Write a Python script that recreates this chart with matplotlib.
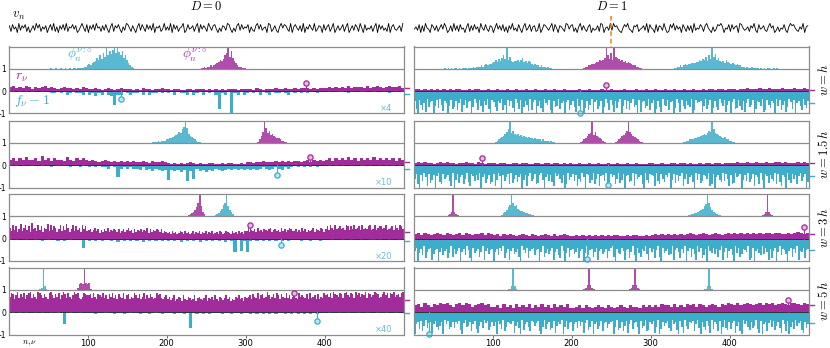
import numpy as np
import matplotlib.pyplot as plt
from matplotlib import transforms
from matplotlib.lines import Line2D

plt.rcParams['mathtext.fontset'] = 'cm'
plt.rcParams['font.family'] = ['DejaVu Sans']

MAG = '#a22c9c'
CYAN = '#3cadca'
MAG_L = '#e9b6e4'
CYAN_L = '#bfe6f0'

# potential v_n, one digit every 2 sites (level 1..9 around 5)
V_L = ("72846 19375 82614 73958 26471 58392 61748 39265 84713 69528 "
       "17483 95627 38416 92758 41639 85274 16938 52847 39165 72493 "
       "63918 47256 91384 57269 18475 29637 84152 76398 41527 93846 "
       "58163 27948 35619 82473 16958 74291 68537 29164 85392 47618 "
       "36825 91473 58269 14738 62951 83547 26918 47352 91684 35729")
V_R = ("46381 72954 18637 25849 61372 93728 45169 27384 61953 84276 "
       "15947 38261 74935 28416 93582 67239 14875 36928 51764 29847 "
       "82516 93742 68153 47298 15639 39674 21586 94317 68245 73918 "
       "54182 76394 12859 37461 85273 71935 48627 95316 24879 61548 "
       "28467 19853 46275 93184 57326 95713 62548 31697 85326 49167")

# r_nu and |f_nu - 1| over sites 1..500, base-36 char / 20 (125 chars: 4 sites each, 250 chars: 2 sites each)
R_L = [
    "45343 54243 45343 23433 23243 22321 23212 32221 21322 12232 21221 12212 22121 21212 22122 "
    "22132 12223 22322 32333 23233 34343 43534 44353 45434 54453",
    "56465 75564 85646 55475 46565 45434 54343 43434 33432 43343 21212 12321 21122 11212 21121 "
    "33233 43334 34343 44345 35454 56465 65756 46565 75656 56465",
    "a7c8b 69d7a c8b6e 9a7c8 b6a9d 7c8ba 69c7b 8da69 c7b8a 6c9b7 "
    "8968a 79586 97a68 79869 57968 a7859 68796 87a59 68798 69576 "
    "56475 64576 47564 57465 74657 46574 56476 45765 47564 75647 "
    "7a687 96a78 69879 a6897 86a79 68a97 79686 a7968 78a69 87a96 "
    "9b8ca 8c9ab 9a8cb 8b9c9 ab8c9 a9bc8 9c8ab b9ac8 9ab8c a8cb9",
    "ehgcf idgeh cfhid gecih fdgec hifdg ehcfi gdhec fighd cehgf "
    "fgdhe cgfeh dfcge hdfcg edhcf gcedh fdgce hcfdg ecdhf gdcef "
    "cebdf aceda fcbed bcfad ecbdf adceb fcaed bdfce acbed fcdae "
    "defcg edhcf gdeif cegdh fcged hdfce gdche fedgc hdefc gcedh "
    "fgehd igfeh gdhif ehgdi fhegf idhge fihgd egifh dhgie fgehi",
]
F_L = [
    "00101 01011 01122 12132 12231 32423 134c3 31232 21313 22121 21312 23132 13121 3g231 k2313 "
    "21213 12312 21231 21212 11211 10110 01201 10011 01101 21010",
    "01010 11011 01121 01012 11201 21212 2312b 32323 34243 53454 d4546 4e5c3 54645 34543 43434 "
    "34343 23432 34232 12121 21211 10101 01101 10010 11010 10101",
    "01011 01101 21011 21210 11181 21212 11213 12121 21312 12121 21213 12121 31212 12131 2c1b2 "
    "c2121 21212 12121 11211 21121 11011 01101 10110 01011 01101",
    "10101 01101 01101 01b10 11011 11211 01121 12101 12112 10121 11211 21e12 12121 11211 21121 "
    "12121 21212 11212 12121 21211 10110 11011 01101 10110 11011",
]
R_R = [
    "22121 21212 12122 11212 21121 12112 11211 21121 12112 11211 11211 21112 11211 12111 21121 "
    "12112 11211 21121 12122 12212 22122 32223 22322 23222 32232",
    "23232 21232 32212 23221 32122 21221 12212 21122 12212 21212 11211 21121 12112 11211 21112 "
    "21121 12212 21211 21221 22122 22322 32232 23223 32322 23232",
    "45354 34543 54345 35434 45354 34243 43234 32432 34324 23432 23232 32323 23233 22323 32232 "
    "34343 43434 34543 45434 54345 45454 54545 45545 54454 56545",
    "67586 57687 86578 68756 78675 56475 64756 57465 75647 56574 45646 54565 46545 65465 54656 "
    "56576 65756 57675 76567 65768 76867 87678 68786 78768 87687",
]
F_R = [
    "9gk8c hbj7e a9kd8 f7ci9 bkd8g e9hb7 jc8fa 9ke7b h8dj9 c7gk8 "
    "aei9b 7hck8 d9fj7 bg8ke 9ci7h a8kd9 fj7bc 8hk9e d7gb9 ka8hc "
    "9ej7d b8kf9 hc7ja 8gd9k e7bh8 cj9fa 7kd8g 9hb7e ck8ja 9fd7h "
    "b8kg9 ej7cd 8ha9k f7bj8 dg9ce 7kh8b a9jd7 gc8kf 9eh7b d8jc9 "
    "ka7gf 8dh9j b7ec8 kg9ad 7jh8c f9bk7 d8hc9 je7ag 8kb9d h7cf9",
    "c8hk9 e7bj8 gd9ka 7fh8c b9ej7 kd8gb 9hc7f j8ae9 d7kb8 gc9hf "
    "8jd7a k9eb8 h7gc9 fb8kd 9ja7e c8hg9 7dkb8 e9fj7 a8cg9 kh7db "
    "8e9jc f7bk8 9gd7h c8ja9 e7kf8 b9hc7 gd8ka 9fe7j 8cb9h k7dg8 "
    "9aj7e h8cf9 b7kd8 g9ea7 jc8hb 9fk7d 8ge9a c7jh8 kb9df 7e8cj "
    "9hg7b a8kd9 e7fc8 j9bh7 dk8ag 9ce7h 8fj9b k7dg8 c9ha7 eb8kf",
    "b8kd9 f7hc9 8jea9 kc8fb 9hd7g 9eb8k c9f7a hk8db 9gc7j b8ea9 "
    "kc9f8 b7hd9 jb8ec 9gk7a d8hb9 8fa9k c7gd9 eb8jc 9fh7b kd8ga "
    "9ec8h b9kd7 fa9gc 8jb9e c9hb8 7gk9d e8bja 9hc7f k8dg9 b7ej8 "
    "c9ha7 gk8db 9fe7j a8ch9 d7kb8 g9ej7 c8hf9 k7bd8 e9ga7 jc8hb "
    "9fk7d 8ge9a c7jh8 kb9df 7e8cj 9hb8k c7f9a ekb8g 9d7jb c8ha9",
    "kb9f8 hc7ea 9jb8d gc9k7 b8fd9 e9b8g ka7dc 9hb8f jc9e7 a8gd9 "
    "c9k8b f7hd9 ab8jc 9ek7g b9dh8 9ca8h kd7fb 9ge8j c9b7k d8fa9 "
    "hb9e8 c9ja7 gd8kb 9fc8h a9eb9 8kd7g e9hc8 jb7fa 9dk8e c7hg9 "
    "b8jd7 kf9ca 8eh7b 9gk8d j7cf9 a8hb7 ek9dg 8cj7f 9bh8k d7eg9 "
    "fa8jc 9hk7b 8dg9e c7fj8 kb9ha 7d8gc 9ej7b h8kd9 f7ca8 gj9eb",
]

# eigenvector densities |phi_n|^2 (rescaled): (first site, one char every 2 sites)
PHI_C_L = [
    [(50, "00100 10010 01001 01101 111 22343 56 7a8c9e bkcgd hkekf cgac 85321")],
    [(180, "01111 21222 33445 678a9 cekd8 65432 11")],
    [(262, "1235 7ack9 642")],
    [(40, "12k31")],
]
PHI_M_L = [
    [(244, "11212 2323 45687 9cekb ga753 22111 0")],
    [(316, "136ak d9b78 65443 2211")],
    [(228, "1234 68ck9 42")],
    [(88, "2565k 6561")],
]
PHI_C_R = [
    [(36, "00101 01011 01011 10111 21 22232 34344 56869 7ac9k 8b767 7868a 67576 43433 23221 211"),
     (330, "11223 23434 45556 68798 b7c9k bd8a7 67586 54543 43322 12112 11110 10101 100101")],
    [(104, "12345 68ack 9b878 67565 45443 43332 32221 2110"),
     (342, "11223 33445 56787 9bakc 98765 45332 211")],
    [(112, "13468 akc9a 76554 33221 1"),
     (348, "11223 34567 9bkc8 64321 1")],
    [(120, "113k31"), (368, "113k31")],
]
PHI_M_R = [
    [(216, "12233 44566 878ak c9e8k ba978 67565 43322 11")],
    [(212, "12346 89k7a 65432 1"), (256, "12346 79bka 86543 211")],
    [(44, "124k421"), (442, "124k421")],
    [(216, "124k421"), (274, "124k421")],
]

# selected nu markers (nu, value) and marginal means
MARK_R_L = [(376, 0.36), (382, 0.36), (305, 0.62), (361, 0.84)]
MARK_F_L = [(142, -0.36), (340, -0.44), (345, -0.3), (390, -0.4)]
MARK_R_R = [(243, 0.27), (87, 0.3), (494, 0.53), (474, 0.53)]
MARK_F_R = [(211, -1.0), (246, -0.9), (219, -0.9), (19, -1.0)]
MEAN_R_L = [0.13, 0.13, 0.3, 0.53]
MEAN_F_L = [-0.13, -0.18, -0.1, -0.04]
MEAN_R_R = [0.07, 0.09, 0.2, 0.3]
MEAN_F_R = [-0.55, -0.5, -0.5, -0.5]
SCALES = ['×4', '×10', '×20', '×40']
ROW_LABELS = [r'$w=h$', r'$w=1.5\,h$', r'$w=3\,h$', r'$w=5\,h$']
COL_TITLES = [r'$D=0$', r'$D=1$']


def dec(s):
    return np.array([int(c, 36) for c in s.replace(' ', '')]) / 20


def dec_v(s):
    return np.array([int(c) for c in s.replace(' ', '')]) - 5.0


def site_bars(ax, vals, sign, color):
    step = 500 / len(vals)
    x = 0.5 + step * (np.arange(len(vals)) + 0.5)
    ax.bar(x, sign * vals, width=step, color=color, lw=0)


W, H = 830, 348
fig = plt.figure(figsize=(W / 100, H / 100), dpi=100)
col_x = [9, 414]
col_w = 395
row_top = [46.5, 120.5, 194, 267.5]
row_h = 67

data = [
    (V_L, R_L, F_L, PHI_C_L, PHI_M_L, MARK_R_L, MARK_F_L, MEAN_R_L, MEAN_F_L),
    (V_R, R_R, F_R, PHI_C_R, PHI_M_R, MARK_R_R, MARK_F_R, MEAN_R_R, MEAN_F_R),
]

for c, (vs, rs, fs, phc, phm, mr, mf, mnr, mnf) in enumerate(data):
    # potential strip
    axv = fig.add_axes([col_x[c] / W, 1 - 36 / H, col_w / W, 16 / H])
    v = dec_v(vs)
    axv.plot(1 + 2 * np.arange(len(v)), v, color='k', lw=0.6)
    axv.set_xlim(0.5, 500.5)
    axv.set_ylim(-7, 7)
    axv.axis('off')
    fig.text((col_x[c] + col_w / 2) / W, 1 - 7 / H, COL_TITLES[c],
             ha='center', va='center', fontsize=9)
    if c == 1:
        tr = transforms.blended_transform_factory(axv.transData, fig.transFigure)
        fig.add_artist(Line2D([250, 250], [1 - 16 / H, 1 - 47 / H], transform=tr,
                              color='#f07f1e', lw=1.1, ls=(0, (3, 2))))

    for r in range(4):
        ax = fig.add_axes([col_x[c] / W, 1 - (row_top[r] + row_h) / H,
                           col_w / W, row_h / H])
        ax.set_xlim(0.5, 500.5)
        ax.set_ylim(-1, 2)

        for start, s in phc[r]:
            y = dec(s)
            ax.bar(start + 2 * np.arange(len(y)), np.minimum(y, 1), width=2,
                   bottom=1, color=CYAN, alpha=0.85, lw=0)
        for start, s in phm[r]:
            y = dec(s)
            ax.bar(start + 2 * np.arange(len(y)), np.minimum(y, 1), width=2,
                   bottom=1, color=MAG, alpha=0.85, lw=0)

        site_bars(ax, dec(rs[r]), 1, MAG)
        site_bars(ax, dec(fs[r]), -1, CYAN)

        ax.axhline(1, color='#8c8c8c', lw=0.9)
        ax.axhline(0, color='#222222', lw=0.6)

        nu, val = mr[r]
        ax.plot([nu, nu], [0, val], color=MAG, lw=0.8)
        ax.plot(nu, val, 'o', ms=3.8, mfc=MAG_L, mec=MAG, mew=0.9, clip_on=False)
        nu, val = mf[r]
        ax.plot([nu, nu], [0, val], color=CYAN, lw=0.8)
        ax.plot(nu, val, 'o', ms=3.8, mfc=CYAN_L, mec=CYAN, mew=0.9, clip_on=False)

        ax.plot([501, 507], [mnr[r]] * 2, color=MAG, lw=1.0, clip_on=False)
        ax.plot([501, 507], [mnf[r]] * 2, color=CYAN, lw=1.0, clip_on=False)

        for sp in ax.spines.values():
            sp.set_color('#8c8c8c')
            sp.set_linewidth(0.9)

        if c == 0:
            ax.set_yticks([-1, 0, 1])
            ax.set_yticklabels(['-1', '0', '1'])
            ax.tick_params(axis='y', length=0, pad=2, labelsize=5.5)
            ax.text(486, -0.78, SCALES[r], color='#6cbcd4', fontsize=6,
                    ha='right', va='center')
        else:
            ax.set_yticks([])
            fig.text(824 / W, 1 - (row_top[r] + row_h / 2) / H, ROW_LABELS[r],
                     rotation=90, ha='center', va='center', fontsize=9)

        if r == 3:
            ax.set_xticks([100, 200, 300, 400])
            ax.tick_params(axis='x', length=2, width=0.6, pad=1, labelsize=6,
                           color='#555555')
        else:
            ax.set_xticks([])

        if c == 0 and r == 0:
            ax.text(8, 0.62, r'$r_\nu$', color=MAG, fontsize=10, va='center')
            ax.text(7, -0.42, r'$f_\nu - 1$', color=CYAN, fontsize=10, va='center')
            ax.text(90, 1.62, r'$\phi_n^{\nu:\circ}$', color=CYAN, fontsize=9.5,
                    ha='center', va='center')
            ax.text(236, 1.62, r'$\phi_n^{\nu:\circ}$', color=MAG, fontsize=9.5,
                    ha='center', va='center')

fig.text(12 / W, 1 - 15 / H, r'$v_n$', fontsize=9, va='center')
fig.text(22 / W, 1 - 343 / H, r'$n,\nu$', fontsize=6, va='center')

fig.savefig('out.png', dpi=100)
